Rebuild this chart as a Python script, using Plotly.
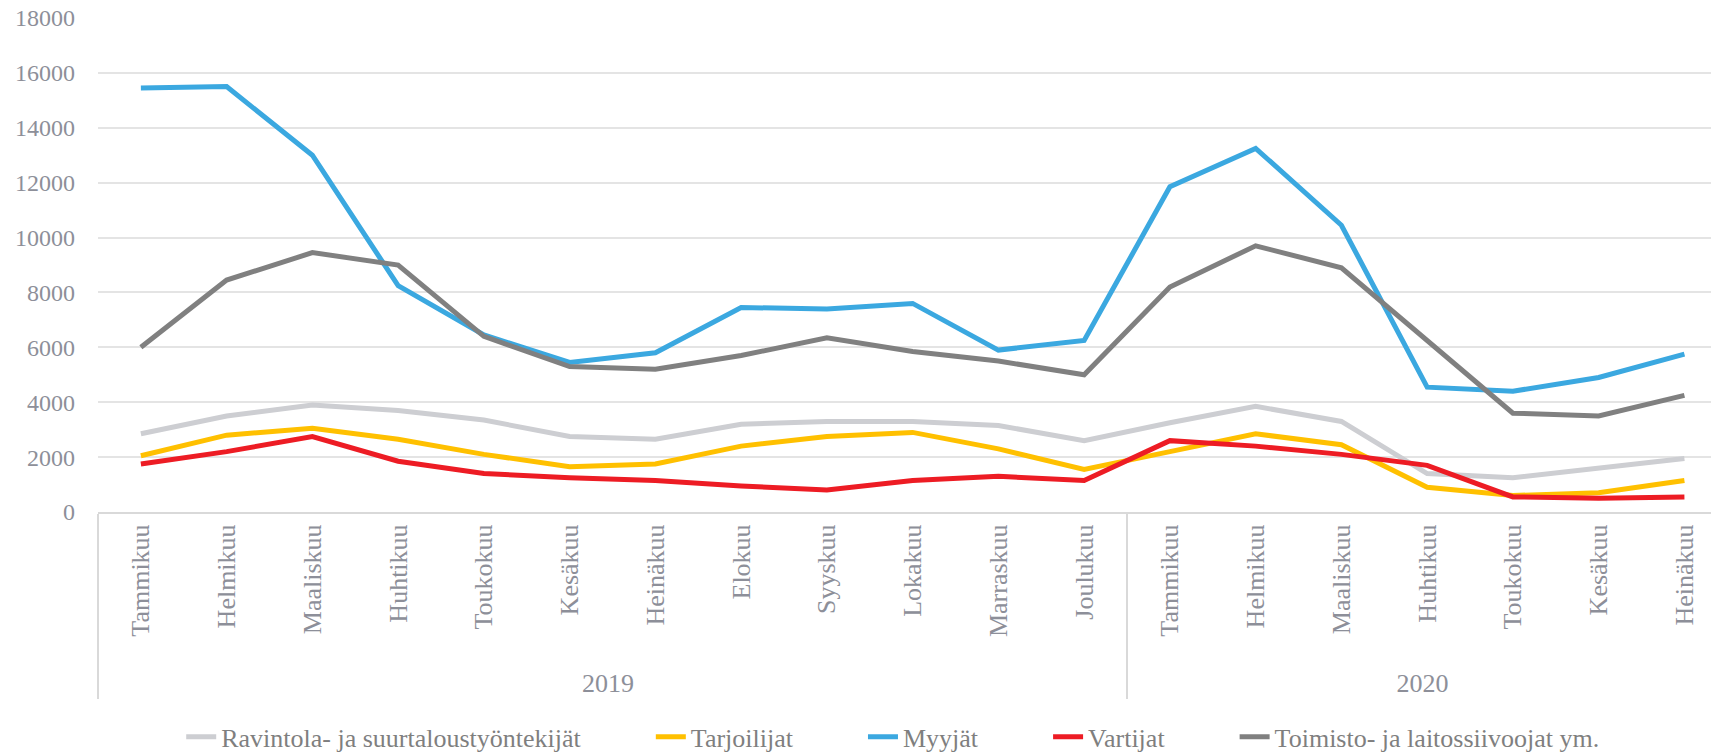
import plotly.graph_objects as go

years = ["2019"] * 12 + ["2020"] * 7
months = ["Tammikuu", "Helmikuu", "Maaliskuu", "Huhtikuu", "Toukokuu", "Kesäkuu",
          "Heinäkuu", "Elokuu", "Syyskuu", "Lokakuu", "Marraskuu", "Joulukuu",
          "Tammikuu", "Helmikuu", "Maaliskuu", "Huhtikuu", "Toukokuu", "Kesäkuu",
          "Heinäkuu"]

ravintola = [2850, 3500, 3900, 3700, 3350, 2750, 2650, 3200, 3300, 3300, 3150, 2600,
             3250, 3850, 3300, 1400, 1250, 1600, 1950]
tarjoilijat = [2050, 2800, 3050, 2650, 2100, 1650, 1750, 2400, 2750, 2900, 2300, 1550,
               2200, 2850, 2450, 900, 600, 700, 1150]
myyjat = [15450, 15500, 13000, 8250, 6450, 5450, 5800, 7450, 7400, 7600, 5900, 6250,
          11850, 13250, 10450, 4550, 4400, 4900, 5750]
vartijat = [1750, 2200, 2750, 1850, 1400, 1250, 1150, 950, 800, 1150, 1300, 1150,
            2600, 2400, 2100, 1700, 550, 500, 550]
toimisto = [6000, 8450, 9450, 9000, 6400, 5300, 5200, 5700, 6350, 5850, 5500, 5000,
            8200, 9700, 8900, 6250, 3600, 3500, 4250]

series_names = ["Ravintola- ja suurtaloustyöntekijät", "Tarjoilijat", "Myyjät",
                "Vartijat", "Toimisto- ja laitossiivoojat ym."]
series_values = [ravintola, tarjoilijat, myyjat, vartijat, toimisto]
series_colors = ["#cdced2", "#ffc000", "#3ba8e0", "#ed1c24", "#808080"]

FONT = "Liberation Serif"
GRAY = "#8d8f99"
PAD = "\u00a0" * 10
# an invisible leading space pushes the year row a little lower, as in the reference
month_labels = ["\u00a0" + m for m in months]

fig = go.Figure()
for i, (name, vals, col) in enumerate(zip(series_names, series_values, series_colors)):
    label = name + (PAD if i < len(series_names) - 1 else "")
    fig.add_trace(go.Scatter(
        x=[years, month_labels], y=vals, name=label, mode="lines",
        line=dict(color=col, width=5),
    ))

fig.update_layout(
    width=1711, height=753,
    margin=dict(l=98, r=0, t=18, b=241, autoexpand=False),
    paper_bgcolor="white", plot_bgcolor="white",
    font=dict(family=FONT, size=25, color=GRAY),
    legend=dict(orientation="h", x=0.493, xanchor="center", y=-0.455, yanchor="middle",
                font=dict(family=FONT, size=26, color="#7f7f7f"),
                tracegroupgap=0),
    showlegend=True,
)
fig.update_xaxes(
    type="multicategory", range=[-0.5, 18.31], automargin=False,
    tickangle=-90, showgrid=False,
    showline=True, linecolor="#d9d9d9", linewidth=2,
    showdividers=True, dividercolor="#d9d9d9", dividerwidth=1.5,
    tickfont=dict(family=FONT, size=26, color=GRAY),
    ticks="",
)
fig.update_yaxes(
    range=[0, 18000], dtick=2000, showgrid=True, gridcolor="#e4e4e4", gridwidth=2,
    zeroline=False, showline=False, tickformat="d", automargin=False,
    tickfont=dict(family=FONT, size=24, color=GRAY),
    ticklabelstandoff=22,
)

fig.write_html("out.html", config={"displayModeBar": False},
               post_script="document.body.style.margin='0';")
